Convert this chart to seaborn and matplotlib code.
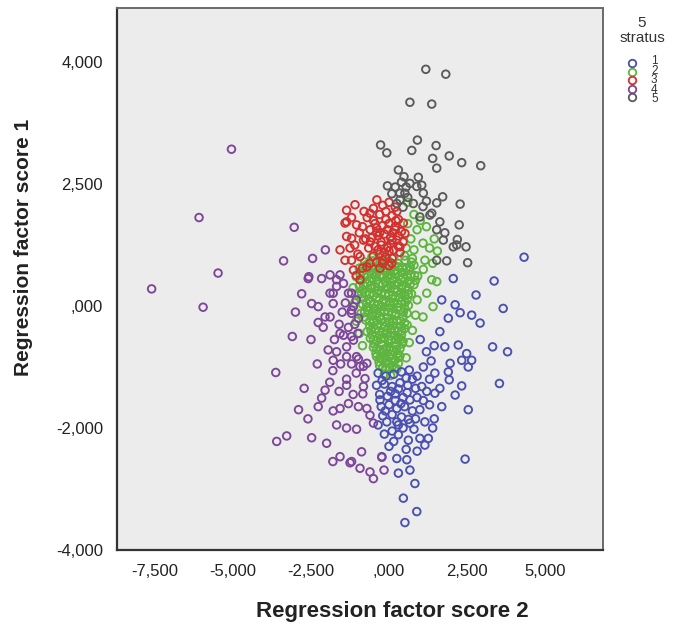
import numpy as np
import pandas as pd
import matplotlib
matplotlib.use("Agg")
import matplotlib.pyplot as plt
import seaborn as sns
from matplotlib.lines import Line2D

# ---------------- data ----------------
strata = ["1", "2", "3", "4", "5"]
colors = ["#4a4fb2", "#5db53e", "#d3302e", "#7d4699", "#5a5a5a"]

x_ticks = [-7.5, -5.0, -2.5, 0.0, 2.5, 5.0]
x_tick_labels = ["-7,500", "-5,000", "-2,500", ",000", "2,500", "5,000"]
y_ticks = [4, 2, 0, -2, -4]
y_tick_labels = ["4,000", "2,500", ",000", "-2,000", "-4,000"]

# stratum 1 (blue)
s1_x = [4.33, 3.37, 2.79, 3.66, 2.06, 1.69, 2.12, 2.28, 2.65, 2.92, 1.90, 1.63, 1.79, 2.22, 2.49,
        3.32, 3.80, 2.33, 2.65, 2.54, 1.96, 1.90, 1.47, 1.93, 2.33, 3.54, 2.12, 1.63, 1.21, 2.54,
        1.69, 2.44, 1.47, 1.05, 0.67, 0.99, 1.15, 0.67, 0.25, -0.07, 0.30, 0.62, 0.99, 1.26, 1.15,
        -0.29, -0.23, 0.25, 0.57, 0.30, 0.67, 0.83, 0.46, 0.89, 0.51,
        1.00, 1.20, 1.35, 1.10, 1.30, 1.45,
        -0.35, -0.10, 0.15, 0.40, 0.65, 0.90, -0.40, -0.15, 0.10, 0.35, 0.60, 0.85, -0.30, -0.05,
        0.20, 0.45, 0.90, -0.25, 0.00, 0.25, 0.50, 0.75, -0.20, 0.10, 0.40, 0.85, 0.45, 0.80, 0.10,
        -0.15, 0.55, 0.90, 0.00, 0.20, 0.30, -0.35, 1.30, 1.10, 1.45, 1.40, 0.15, 0.75, 0.55,
        -0.22, 0.05, 0.30, 0.58, -0.12, 0.62, 0.38]
s1_y = [0.80, 0.41, 0.18, -0.04, 0.45, 0.10, 0.02, -0.11, -0.15, -0.28, -0.20, -0.42, -0.67, -0.64, -0.78,
        -0.67, -0.75, -0.89, -0.89, -1.00, -0.94, -1.08, -1.10, -1.21, -1.31, -1.27, -1.46, -1.35, -1.40, -1.70,
        -1.65, -2.51, -1.43, -1.32, -1.54, -1.70, -1.90, -1.92, -1.90, -1.90, -2.11, -2.20, -2.17, -2.17, -2.28,
        -1.54, -2.47, -2.50, -2.52, -2.74, -2.69, -2.91, -3.15, -3.37, -3.55,
        -0.55, -0.75, -0.90, -1.00, -1.20, -0.65,
        -1.10, -1.15, -1.12, -1.08, -1.05, -1.15, -1.30, -1.28, -1.32, -1.26, -1.30, -1.35, -1.45, -1.48,
        -1.44, -1.50, -1.50, -1.65, -1.62, -1.68, -1.65, -1.72, -1.80, -1.78, -1.82, -1.85, -2.00, -2.02, -2.05,
        -2.10, -2.35, -2.38, -2.30, -1.55, -1.95, -1.95, -1.62, -1.55, -1.85, -2.00, -2.22, -1.20, -1.18,
        -1.22, -1.40, -1.36, -1.42, -1.72, -1.86, -1.60]

# stratum 2 (green)
s2_x = [-0.95, -0.70, -0.45, -0.20, 0.05, 0.30, 0.55, 0.80,
        -1.05, -0.80, -0.55, -0.30, -0.05, 0.20, 0.45, 0.70, 0.92,
        -0.95, -0.70, -0.45, -0.20, 0.05, 0.30, 0.55, 0.80,
        -1.00, -0.75, -0.50, -0.25, 0.00, 0.25, 0.50, 0.72,
        -0.85, -0.60, -0.35, -0.10, 0.15, 0.40, 0.62,
        -0.90, -0.65, -0.40, -0.15, 0.10, 0.35, 0.58,
        -0.75, -0.50, -0.25, 0.00, 0.25, 0.50,
        -0.70, -0.45, -0.20, 0.05, 0.30, 0.50,
        -0.60, -0.38, -0.15, 0.08, 0.30, 0.45,
        -0.50, -0.30, -0.08, 0.12, 0.35,
        -0.40, -0.20, 0.00, 0.20, 0.35,
        -0.30, -0.10, 0.10, 0.25,
        -0.15, 0.05,
        -0.78, -0.52, -0.28, 0.00, 0.28, 0.52, 0.72,
        -0.85, -0.60, -0.32, -0.08, 0.18, 0.42, 0.66,
        -0.88, -0.62, -0.38, -0.12, 0.12, 0.38, 0.62, 0.85,
        -0.85, -0.58, -0.35, -0.08, 0.16, 0.40, 0.62,
        -0.90, -0.65, -0.40, -0.15, 0.10, 0.35, 0.58,
        -0.72, -0.48, -0.22, 0.02, 0.28, 0.50,
        -0.78, -0.55, -0.30, -0.05, 0.20, 0.45,
        -0.62, -0.38, -0.12, 0.12, 0.38, 0.58,
        -0.55, -0.30, -0.08, 0.18, 0.40,
        -0.48, -0.25, 0.00, 0.22, 0.42,
        -0.42, -0.18, 0.05, 0.28,
        -0.32, -0.08, 0.15, 0.30,
        -1.15, -1.10, -1.05, -0.95, -0.85, 0.90, 0.85, 0.75, 0.65, 0.55,
        1.09, 1.37, 1.21, 1.41, 1.09, 1.15, 1.53,
        0.60, 0.80, 0.60, 0.90, 1.20, 1.45, 0.70, 1.00, 1.30, 1.55, 0.55, 0.80, 1.10, 1.40,
        -0.55, -0.20, 0.15, 0.50, 0.75,
        -0.82, -0.58, -0.33, -0.08, 0.18, 0.42, 0.68,
        -0.92, -0.68, -0.42, -0.18, 0.08, 0.32, 0.58, 0.82,
        -0.82, -0.58, -0.32, -0.08, 0.18, 0.42, 0.68,
        -0.88, -0.62, -0.38, -0.12, 0.12, 0.38, 0.62,
        -0.72, -0.48, -0.22, 0.02, 0.28, 0.52,
        -0.78, -0.52, -0.28, -0.02, 0.22, 0.46,
        -0.62, -0.38, -0.12, 0.12, 0.38,
        -0.58, -0.32, -0.08, 0.18, 0.40,
        -0.50, -0.26, -0.02, 0.20, 0.38,
        -0.40, -0.18, 0.02, 0.24,
        -0.30, -0.10, 0.10, 0.28,
        -0.20, 0.00, 0.18]
s2_y = [0.62, 0.68, 0.60, 0.66, 0.58, 0.64, 0.61, 0.67,
        0.48, 0.52, 0.45, 0.50, 0.47, 0.53, 0.46, 0.51, 0.49,
        0.33, 0.37, 0.31, 0.36, 0.34, 0.38, 0.32, 0.35,
        0.18, 0.22, 0.17, 0.21, 0.19, 0.23, 0.16, 0.20,
        0.03, 0.07, 0.02, 0.06, 0.04, 0.08, 0.01,
        -0.12, -0.08, -0.13, -0.09, -0.11, -0.07, -0.12,
        -0.23, -0.27, -0.22, -0.26, -0.24, -0.28,
        -0.42, -0.38, -0.43, -0.39, -0.41, -0.37,
        -0.53, -0.57, -0.52, -0.56, -0.54, -0.58,
        -0.68, -0.72, -0.69, -0.73, -0.70,
        -0.83, -0.87, -0.84, -0.88, -0.82,
        -0.98, -1.02, -0.99, -1.03,
        -1.12, -1.14,
        0.72, 0.74, 0.71, 0.73, 0.70, 0.75, 0.72,
        0.57, 0.56, 0.58, 0.55, 0.57, 0.55, 0.58,
        0.42, 0.41, 0.43, 0.40, 0.42, 0.43, 0.41, 0.42,
        0.27, 0.29, 0.26, 0.28, 0.27, 0.29, 0.26,
        0.12, 0.11, 0.13, 0.10, 0.12, 0.14, 0.11,
        -0.02, -0.04, -0.01, -0.03, -0.02, -0.04,
        -0.18, -0.16, -0.17, -0.19, -0.16, -0.18,
        -0.33, -0.31, -0.34, -0.32, -0.33, -0.31,
        -0.47, -0.48, -0.46, -0.48, -0.47,
        -0.62, -0.63, -0.61, -0.64, -0.62,
        -0.78, -0.77, -0.79, -0.78,
        -0.92, -0.93, -0.91, -0.94,
        0.30, 0.05, -0.25, -0.45, -0.65, 0.10, -0.15, -0.40, -0.60, -0.85,
        1.03, 0.43, 0.21, -0.01, -0.18, 0.75, 0.40,
        1.70, 1.50, 1.35, 1.25, 1.30, 1.10, 1.10, 1.40, 0.95, 0.90, 0.95, 0.92, 0.60, 0.70,
        0.80, 0.83, 0.79, 0.82, 0.78,
        0.65, 0.63, 0.65, 0.62, 0.66, 0.63, 0.64,
        0.50, 0.49, 0.51, 0.48, 0.50, 0.49, 0.50, 0.50,
        0.35, 0.34, 0.36, 0.33, 0.35, 0.34, 0.36,
        0.20, 0.19, 0.21, 0.20, 0.18, 0.20, 0.19,
        0.05, 0.04, 0.06, 0.05, 0.04, 0.06,
        -0.10, -0.11, -0.09, -0.10, -0.12, -0.10,
        -0.25, -0.24, -0.26, -0.25, -0.25,
        -0.40, -0.41, -0.40, -0.40, -0.41,
        -0.55, -0.54, -0.55, -0.55, -0.55,
        -0.70, -0.71, -0.70, -0.71,
        -0.85, -0.85, -0.86, -0.85,
        -1.00, -1.00, -1.01]

# stratum 3 (red)
s3_x = [-1.36, -1.09, -1.36, -1.04, -0.39, -0.61, -1.57, -1.41, -1.14, -0.93, -1.20, -0.82, -0.93, -0.71,
        -1.41, -1.36, 0.25, 0.46, 0.51, 0.35, 0.09, -0.29, -0.61,
        -0.70, -0.50, -0.30, -0.10, 0.10, 0.30, -0.60, -0.40, -0.20, 0.00, 0.20, 0.40,
        -0.75, -0.55, -0.35, -0.15, 0.05, 0.25, 0.45, -0.65, -0.45, -0.25, -0.05, 0.15, 0.35,
        -0.50, -0.30, -0.10, 0.10, -0.20, 0.00, -0.40, -0.85, -0.95, -1.10, -1.00, -1.25, -1.20,
        -0.85, -1.05, -0.20, 0.00, 0.20, -0.50, -0.80, -1.20, -0.30, 0.12, -0.60, 0.30, -0.15,
        0.05, -0.35, -0.05, -0.45, 0.22, -0.25, 0.10, -0.10, 0.30, -0.40, 0.00, 0.20, -0.20]
s3_y = [1.57, 1.66, 1.38, 1.33, 1.74, 1.52, 0.92, 0.75, 0.59, 0.43, 1.11, 1.08, 0.81, 0.64,
        1.36, 1.14, 1.55, 1.36, 1.19, 0.97, 0.70, 0.62, 0.70,
        1.45, 1.40, 1.50, 1.55, 1.48, 1.42, 1.25, 1.28, 1.32, 1.35, 1.30, 1.22,
        1.10, 1.12, 1.15, 1.18, 1.12, 1.08, 1.05, 0.95, 0.98, 1.00, 0.96, 0.92, 0.88,
        0.82, 0.85, 0.80, 0.78, 0.70, 0.66, 0.72, 1.30, 1.20, 1.00, 0.85, 0.95, 0.75,
        0.62, 0.50, 1.65, 1.70, 1.62, 1.60, 1.55, 1.45, 1.20, 1.20, 1.05, 0.98, 0.88,
        1.02, 0.92, 1.25, 1.35, 1.40, 1.05, 1.08, 1.42, 1.15, 1.20, 0.90, 1.25, 0.75]

# stratum 4 (purple)
s4_x = [-5.05, -6.09, -3.04, -3.38, -5.48, -7.61, -5.96, -2.04, -2.45, -3.63, -2.72, -3.28, -3.60, -2.48,
        -2.59, -2.16, -1.89, -1.57, -1.89, -1.68, -2.48, -2.27, -1.89, -1.46, -1.30, -1.20,
        -2.27, -2.11, -1.79, -1.46, -1.14, -1.95, -1.68, -1.36, -1.79, -1.80, -0.98, -0.71, -1.36, -1.36,
        -0.77, -0.82, -0.84, -2.05, -2.16, -2.27, -1.79, -1.57, -1.30, -0.98, -0.71, -0.61, -0.50, -1.68,
        -1.36, -1.04, -0.88, -1.57, -1.25, -0.93, -0.61, -0.50, -1.20, -1.14,
        -1.20, -0.23, -0.16, -0.82,
        -1.68, -1.79, -1.20, -2.05, -1.57, -1.20, -1.36, -1.04, -0.93, -2.57,
        -1.05, -0.98, -1.10, -1.00, -1.30, -1.50, -1.40, -1.60, -1.75, -1.55, -1.20, -1.05, -1.60, -1.15,
        -1.90, -2.50, -2.30, -2.60, -2.00, -1.80, -2.90, -3.10, -2.80, -3.00]
s4_y = [2.57, 1.45, 1.29, 0.74, 0.54, 0.28, -0.02, 0.92, 0.78, -1.09, -1.35, -2.13, -2.22, -2.16,
        0.45, 0.45, 0.51, 0.51, 0.21, 0.32, 0.04, -0.01, -0.18, 0.37, 0.21, -0.07,
        -0.27, -0.35, 0.04, -0.48, -0.56, -0.72, -0.75, -0.83, -0.89, -1.06, -0.87, -0.94, -1.20, -1.30,
        -1.19, -1.32, -1.44, -1.38, -1.51, -1.65, -1.72, -1.68, -1.60, -1.65, -1.68, -1.79, -1.92, -1.95,
        -2.00, -2.02, -2.39, -2.47, -2.57, -2.66, -2.72, -2.83, -0.12, -0.01,
        -2.55, -2.48, -2.69, -0.99,
        0.43, 0.21, 0.21, -0.18, -0.45, -0.50, -0.67, -0.83, -0.99, 0.48,
        0.10, -0.20, -0.30, -0.45, -0.35, -0.10, 0.05, -0.30, -0.55, -0.95, -0.95, -1.10, -1.40, -1.45,
        -1.25, -0.55, -0.95, -1.85, -2.25, -2.55, -1.70, -0.50, 0.20, -0.10]

# stratum 5 (grey)
s5_x = [1.18, 1.82, 0.67, 1.37, -0.27, -0.07, 0.91, 0.73, 1.51, 1.40, 1.53, 1.93, 2.33, 2.94, 0.30,
        0.48, 0.94, -0.05, 0.67, 1.05, 1.10, 1.72, 1.53, 2.28, 0.09, 0.51, 0.78, 1.37, 1.63, 2.25,
        0.99, 1.79, 2.19, 2.47, 2.17, 2.52, 1.31, 1.09, 0.35, 0.89, 1.53, 1.74, 2.06, 0.35, 0.25,
        0.45, 0.60, 0.20, 0.55, 1.20, 0.40, 1.53, 1.85]
s5_y = [3.88, 3.80, 3.34, 3.31, 2.64, 2.51, 2.72, 2.55, 2.63, 2.42, 2.26, 2.46, 2.35, 2.30, 2.23,
        2.12, 2.11, 1.97, 2.01, 1.98, 1.85, 1.79, 1.69, 1.67, 1.84, 1.85, 1.68, 1.52, 1.38, 1.33,
        1.46, 1.20, 1.09, 0.97, 1.00, 0.71, 1.49, 1.63, 1.85, 1.96, 1.25, 1.08, 0.97, 1.74, 1.68,
        1.62, 1.78, 1.95, 1.95, 1.72, 2.03, 0.75, 0.74]

groups = {"1": (s1_x, s1_y), "2": (s2_x, s2_y), "3": (s3_x, s3_y),
          "4": (s4_x, s4_y), "5": (s5_x, s5_y)}
draw_order = ["2", "1", "4", "3", "5"]

frames = []
for g in draw_order:
    gx, gy = groups[g]
    frames.append(pd.DataFrame({"score2": gx, "score1": gy, "stratus": g}))
df = pd.concat(frames, ignore_index=True)

# ---------------- plot ----------------
sns.set_style("white")
plt.rcParams["font.family"] = ["Liberation Sans", "DejaVu Sans"]

fig = plt.figure(figsize=(6.81, 6.25), dpi=100)
ax = fig.add_axes([117 / 681, 75 / 625, 486 / 681, 542 / 625])
ax.set_facecolor("#ececec")

palette = dict(zip(strata, colors))
sns.scatterplot(data=df, x="score2", y="score1", hue="stratus", palette=palette,
                s=30, linewidth=1.35, legend=False, ax=ax)
coll = ax.collections[0]
fc = coll.get_facecolors()
coll.set_edgecolors(fc)
coll.set_facecolors("none")

ax.set_xlim(-8.72, 6.86)
ax.set_ylim(-4.0, 4.885)
ax.set_xticks(x_ticks)
ax.set_xticklabels(x_tick_labels)
ax.set_yticks(y_ticks)
ax.set_yticklabels(y_tick_labels)
ax.tick_params(direction="out", length=6, width=2.2, color="black",
               labelsize=12, pad=4, labelcolor="#222222")

for side in ["top", "right"]:
    ax.spines[side].set_color("#6a6a6a")
    ax.spines[side].set_linewidth(1.4)
for side in ["left", "bottom"]:
    ax.spines[side].set_color("#333333")
    ax.spines[side].set_linewidth(1.6)

ax.set_xlabel("Regression factor score 2", fontsize=16, fontweight="bold", color="#222222")
ax.set_ylabel("Regression factor score 1", fontsize=15, fontweight="bold", color="#222222")
ax.xaxis.label.set_va("center")
ax.xaxis.set_label_coords((392 - 117) / 486, (550 - 611) / 542)
ax.yaxis.label.set_va("center")
ax.yaxis.set_label_coords((24 - 117) / 486, (550 - 247) / 542)

# ---------------- legend (outside, top right) ----------------
fig.text(642 / 681, 1 - 30.5 / 625, "5\nstratus", ha="center", va="center", fontsize=11,
         linespacing=1.12, color="#333333")
row_pitch = 8.6
for i, col in enumerate(colors):
    yy = 1 - (63 + row_pitch * i) / 625
    fig.add_artist(Line2D([632 / 681], [yy], marker="o", markersize=5.4, markerfacecolor="none",
                          markeredgecolor=col, markeredgewidth=1.3, linestyle="none",
                          transform=fig.transFigure))
# the five labels as one stacked block so the tight rows match the picture
fig.text(651 / 681, 1 - (63 + 2 * row_pitch) / 625, "\n".join(strata), ha="left", va="center",
         fontsize=8.5, linespacing=0.72, color="#333333")

fig.savefig("out.png", dpi=100)
